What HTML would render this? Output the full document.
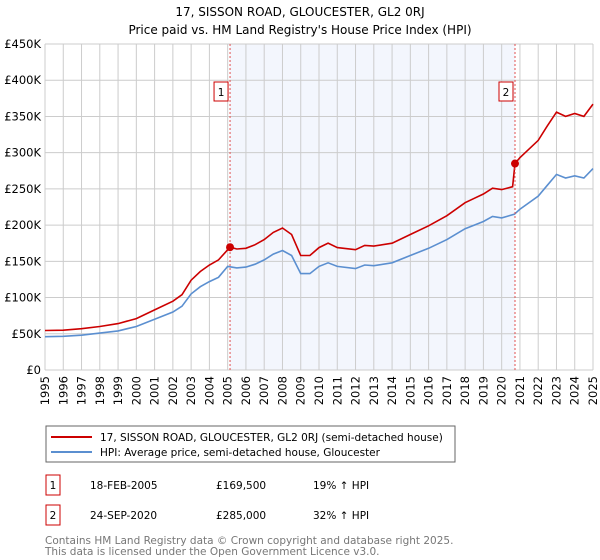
<!DOCTYPE html>
<html><head><meta charset="utf-8"><style>
body{margin:0;width:600px;height:560px;background:#fff;font-family:"DejaVu Sans","Liberation Sans",sans-serif;overflow:hidden}
svg{position:absolute;left:0;top:0}
</style></head><body>
<svg id="c" width="600" height="560" font-family="DejaVu Sans, Liberation Sans, sans-serif">
<text x="300" y="16" text-anchor="middle" font-size="12">17, SISSON ROAD, GLOUCESTER, GL2 0RJ</text>
<text x="300" y="34" text-anchor="middle" font-size="12">Price paid vs. HM Land Registry's House Price Index (HPI)</text>
<g id="plot"></g>
<rect x="46" y="426" width="409" height="36" fill="#fff" stroke="#666"/>
<line x1="51" y1="437" x2="92" y2="437" stroke="#cc0000" stroke-width="2"/>
<text x="100" y="441" font-size="10.5">17, SISSON ROAD, GLOUCESTER, GL2 0RJ (semi-detached house)</text>
<line x1="51" y1="452" x2="92" y2="452" stroke="#5b8fd0" stroke-width="2"/>
<text x="100" y="456" font-size="10.5">HPI: Average price, semi-detached house, Gloucester</text>
<g font-size="10.5">
<rect x="46" y="475" width="14" height="20" fill="#fff" stroke="#cc0000"/>
<text x="53" y="489" text-anchor="middle">1</text>
<text x="90" y="489">18-FEB-2005</text><text x="216" y="489">£169,500</text><text x="313" y="489">19% ↑ HPI</text>
<rect x="46" y="505" width="14" height="20" fill="#fff" stroke="#cc0000"/>
<text x="53" y="519" text-anchor="middle">2</text>
<text x="90" y="519">24-SEP-2020</text><text x="216" y="519">£285,000</text><text x="313" y="519">32% ↑ HPI</text>
</g>
<text x="45" y="544" font-size="10.5" fill="#777">Contains HM Land Registry data © Crown copyright and database right 2025.</text>
<text x="45" y="555" font-size="10.5" fill="#777">This data is licensed under the Open Government Licence v3.0.</text>
</svg>
<script>
const hpiYears=[1995,1996,1997,1998,1999,2000,2001,2002,2002.5,2003,2003.5,2004,2004.5,2005,2005.5,2006,2006.5,2007,2007.5,2008,2008.5,2009,2009.5,2010,2010.5,2011,2012,2012.5,2013,2014,2015,2016,2017,2018,2018.5,2019,2019.5,2020,2020.7,2021,2022,2022.5,2023,2023.5,2024,2024.5,2025];
const hpiValues=[46,46.5,48,51,54,60,70,80,88,105,115,122,128,143,141,142,146,152,160,165,158,133,133,143,148,143,140,145,144,148,158,168,180,195,200,205,212,210,215,222,240,255,270,265,268,265,278];
const priceYears=[1995,1996,1997,1998,1999,2000,2001,2002,2002.5,2003,2003.5,2004,2004.5,2005.13,2005.5,2006,2006.5,2007,2007.5,2008,2008.5,2009,2009.5,2010,2010.5,2011,2012,2012.5,2013,2014,2015,2016,2017,2018,2018.5,2019,2019.5,2020,2020.6,2020.73,2021,2022,2022.5,2023,2023.5,2024,2024.5,2025];
const priceValues=[54.5,55,57,60,64,71,83,95,104,124,136,145,152,169.5,167,168,173,180,190,196,187,158,158,169,175,169,166,172,171,175,187,199,213,231,237,243,251,249,253,285,293,317,337,356,350,354,350,367];
const yTicks=[0,50,100,150,200,250,300,350,400,450];
const yTickLabels=["£0","£50K","£100K","£150K","£200K","£250K","£300K","£350K","£400K","£450K"];
const xTicks=[1995,1996,1997,1998,1999,2000,2001,2002,2003,2004,2005,2006,2007,2008,2009,2010,2011,2012,2013,2014,2015,2016,2017,2018,2019,2020,2021,2022,2023,2024,2025];
const saleYears=[2005.13,2020.73];
const saleValues=[169.5,285];
const saleLabels=["1","2"];
const X0=45,X1=593,Y0=370,Y1=44;
const xs=v=>X0+(v-1995)/30*(X1-X0);
const ys=v=>Y0-v/450*(Y0-Y1);
const NS="http://www.w3.org/2000/svg";
const g=document.getElementById('plot');
function mk(t,a,p){const e=document.createElementNS(NS,t);for(const k in a)e.setAttribute(k,a[k]);(p||g).appendChild(e);return e;}
const shade=mk('rect',{x:xs(saleYears[0]),y:Y1,width:xs(saleYears[1])-xs(saleYears[0]),height:Y0-Y1,fill:'#f3f6fd'});


yTicks.forEach((t,i)=>{
 const l=mk('line',{x1:X0,x2:X1,y1:ys(t),y2:ys(t),stroke:'#ccc'});
 
 
 const tx=mk('text',{x:X0-4,y:ys(t)+4,'text-anchor':'end','font-size':'11.5'});
 tx.textContent=yTickLabels[i];
 
 
});
xTicks.forEach(t=>{
 const l=mk('line',{x1:xs(t),x2:xs(t),y1:Y1,y2:Y0,stroke:'#ccc'});
 
 
 const tx=mk('text',{x:0,y:0,'font-size':'11.5','text-anchor':'end',transform:`translate(${xs(t)+4},${Y0+6}) rotate(-90)`});
 tx.textContent=t;
 
 
});
function path(xa,va,col,name){
 const d=xa.map((x,i)=>(i?'L':'M')+xs(x).toFixed(1)+','+ys(va[i]).toFixed(1)).join('');
 const p=mk('path',{d:d,fill:'none',stroke:col,'stroke-width':1.6});
 
 
}
path(hpiYears,hpiValues,'#5b8fd0','hpi-line');
path(priceYears,priceValues,'#cc0000','property-price-line');
saleYears.forEach((s,i)=>{
 const l=mk('line',{x1:xs(s),x2:xs(s),y1:Y1,y2:Y0,stroke:'#e05050','stroke-dasharray':'2,2'});
 
 
 const c=mk('circle',{cx:xs(s),cy:ys(saleValues[i]),r:4,fill:'#cc0000'});
 
 
 const r=mk('rect',{x:xs(s)-16,y:82,width:14,height:19,fill:'#fff',stroke:'#cc0000'});
 
 
 const tx=mk('text',{x:xs(s)-9,y:96,'text-anchor':'middle','font-size':'10.5'});
 tx.textContent=saleLabels[i];
 
 
});
</script>
</body></html>
